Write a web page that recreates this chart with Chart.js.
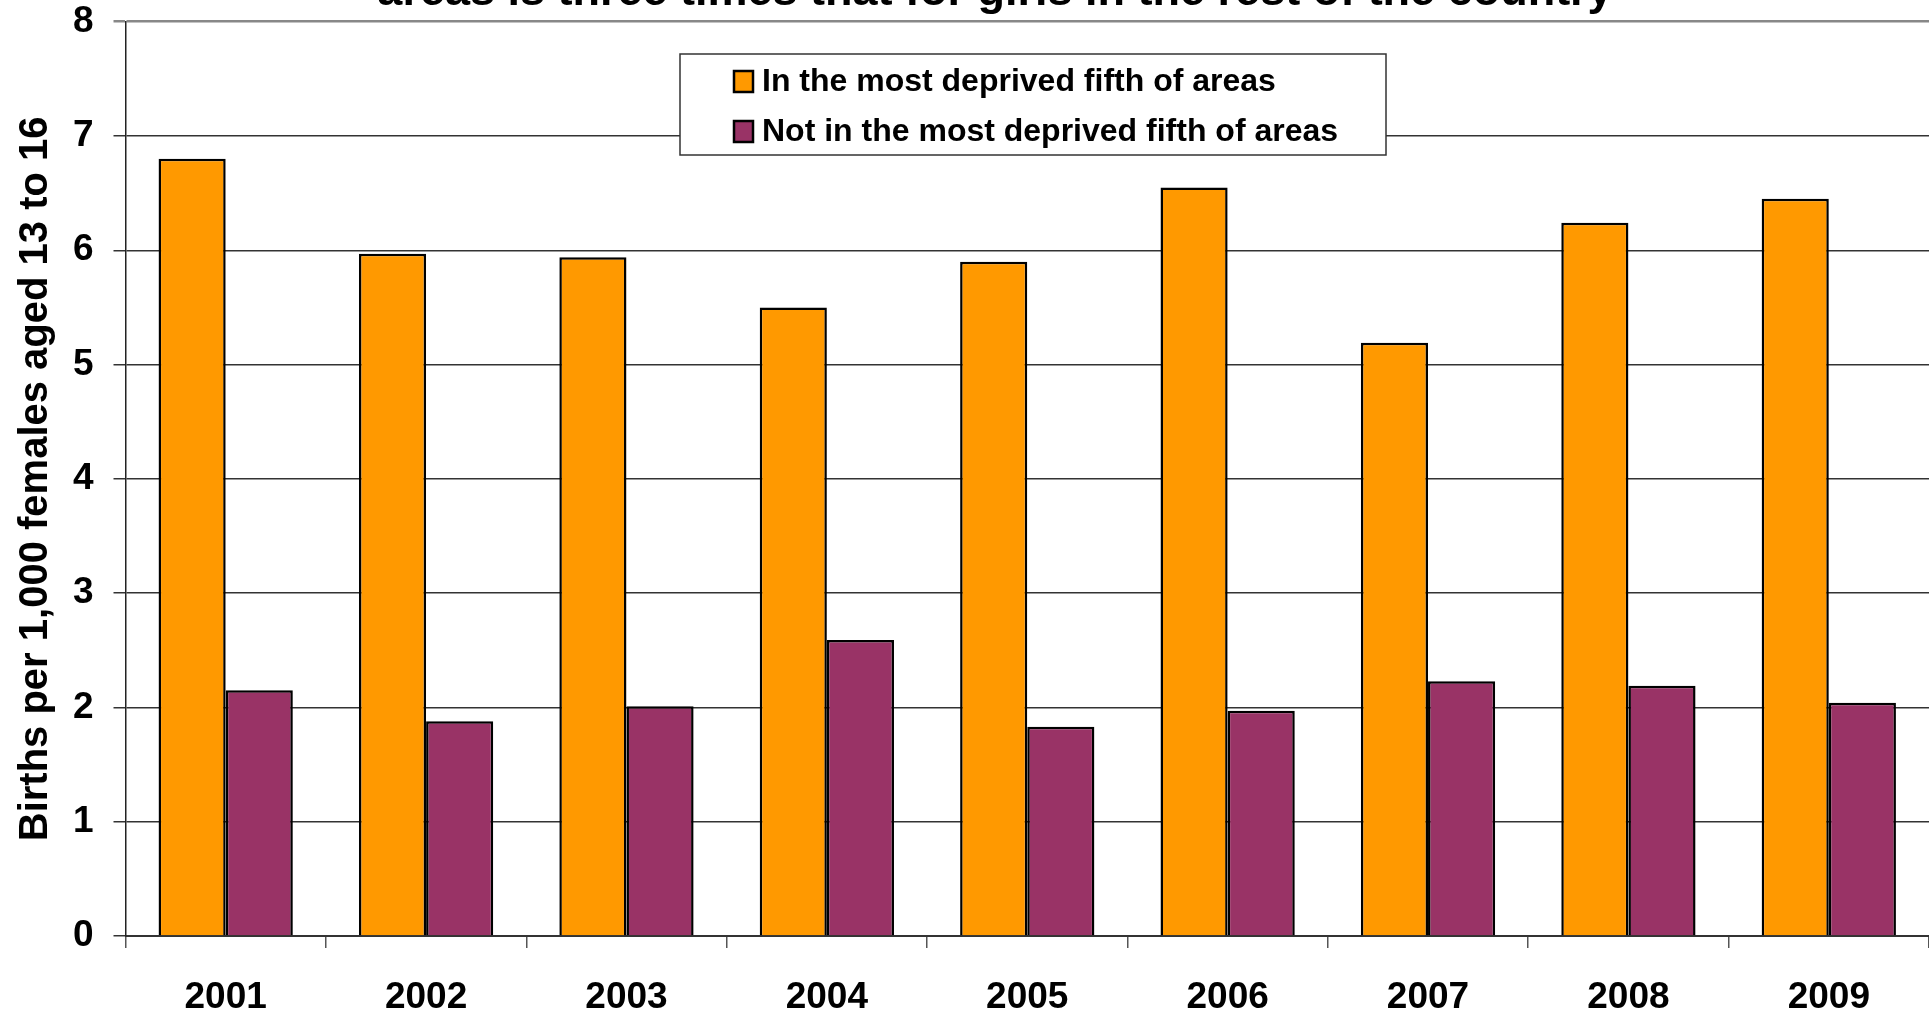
<!DOCTYPE html>
<html>
<head>
<meta charset="utf-8">
<script src="https://cdn.jsdelivr.net/npm/chart.js@4/dist/chart.umd.min.js"></script>
<style>
  html, body { margin: 0; padding: 0; background: #fff; overflow: hidden; }
  #chart { display: block; }
</style>
</head>
<body>
<canvas id="chart" width="1929" height="1015"></canvas>
<script>
// values
const years = ["2001", "2002", "2003", "2004", "2005", "2006", "2007", "2008", "2009"];
const deprived = [6.80, 5.97, 5.94, 5.50, 5.90, 6.55, 5.19, 6.24, 6.45];
const notDeprived = [2.15, 1.88, 2.01, 2.59, 1.83, 1.97, 2.23, 2.19, 2.04];
const yTicks = [0, 1, 2, 3, 4, 5, 6, 7, 8];

const titleText = "areas is three times that for girls in the rest of the country";
const yTitle = "Births per 1,000 females aged 13 to 16";
const FONT = "Arial, 'Liberation Sans', sans-serif";

// title line, the top of it runs off the page
const cutTitle = {
    id: "cutTitle",
    afterDraw(chart) {
        const c = chart.ctx;
        c.save();
        c.font = "bold 45px " + FONT;
        c.fillStyle = "#000";
        c.textAlign = "center";
        c.textBaseline = "alphabetic";
        c.fillText(titleText, 995, 5);
        c.restore();
    }
};

// boxed legend inside the plot
const boxLegend = {
    id: "boxLegend",
    afterDatasetsDraw(chart) {
        const c = chart.ctx;
        c.save();
        c.fillStyle = "#fff";
        c.fillRect(680, 54, 706, 101);
        c.strokeStyle = "#333";
        c.lineWidth = 1.5;
        c.strokeRect(680, 54, 706, 101);
        c.font = "bold 32px " + FONT;
        c.textBaseline = "middle";
        chart.data.datasets.forEach(function (ds, i) {
            const y = 81 + i * 50;
            c.fillStyle = ds.backgroundColor;
            c.fillRect(734, y - 10, 19, 21);
            c.strokeStyle = "#000";
            c.lineWidth = 2.5;
            c.strokeRect(734, y - 10, 19, 21);
            c.fillStyle = "#000";
            c.fillText(ds.label, 762, y + 1);
        });
        c.restore();
    }
};

const ctx = document.getElementById("chart").getContext("2d");
new Chart(ctx, {
    type: "bar",
    data: {
        labels: years,
        datasets: [
            {
                label: "In the most deprived fifth of areas",
                data: deprived,
                backgroundColor: "#FF9900",
                borderColor: "#000",
                borderWidth: 2.5
            },
            {
                label: "Not in the most deprived fifth of areas",
                data: notDeprived,
                backgroundColor: "#993366",
                borderColor: "#000",
                borderWidth: 2.5
            }
        ]
    },
    options: {
        responsive: false,
        animation: false,
        devicePixelRatio: 1,
        categoryPercentage: 0.67,
        barPercentage: 1.0,
        layout: { padding: 0 },
        plugins: {
            legend: { display: false },
            title: { display: false },
            tooltip: { enabled: false }
        },
        scales: {
            x: {
                grid: {
                    offset: true,
                    drawOnChartArea: false,
                    drawTicks: true,
                    tickLength: 12,
                    color: "#555",
                    lineWidth: 1.5
                },
                border: { color: "#333", width: 2 },
                ticks: {
                    color: "#000",
                    font: { family: FONT, size: 37, weight: "bold" },
                    padding: 28,
                    maxRotation: 0
                },
                afterFit(scale) { scale.height = 79; }
            },
            y: {
                min: 0,
                max: 8,
                afterBuildTicks(scale) {
                    scale.ticks = yTicks.map(function (v) { return { value: v }; });
                },
                grid: {
                    color: function (c) { return c.tick && c.tick.value === 8 ? "#888" : "#333"; },
                    lineWidth: function (c) { return c.tick && c.tick.value === 8 ? 2.5 : 1.5; },
                    tickLength: 12
                },
                border: { color: "#222", width: 1.5 },
                ticks: {
                    color: "#000",
                    font: { family: FONT, size: 37, weight: "bold" },
                    padding: 20
                },
                title: {
                    display: true,
                    text: yTitle,
                    color: "#000",
                    font: { family: FONT, size: 40, weight: "bold" },
                    padding: { top: 12, bottom: 0 }
                },
                afterFit(scale) {
                    scale.width = 125.5;
                    scale.paddingTop = 21.7;
                    scale.paddingBottom = 0;
                }
            }
        }
    },
    plugins: [cutTitle, boxLegend]
});
</script>
</body>
</html>
